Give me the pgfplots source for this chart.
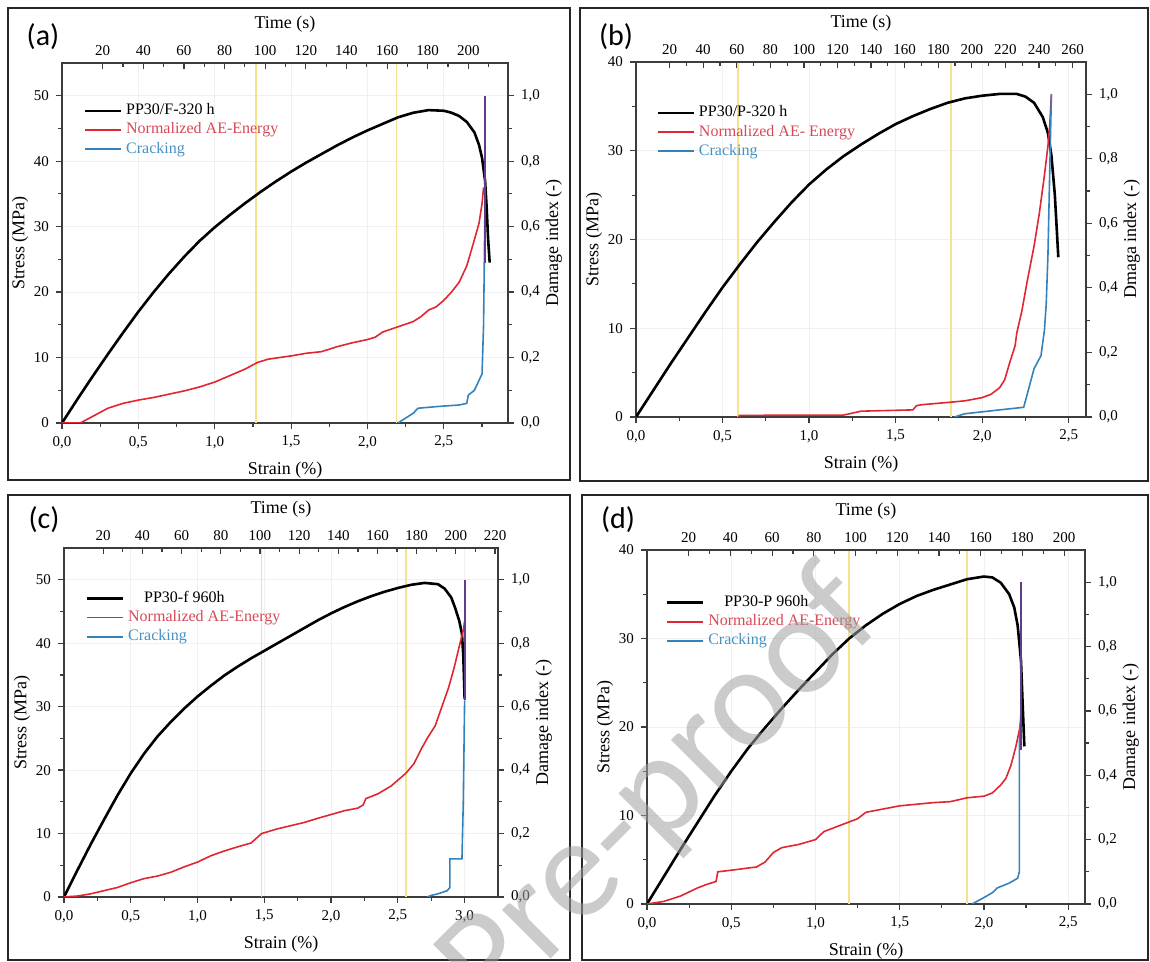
\documentclass[border=0pt]{standalone}
\usepackage{pgfplots}
\pgfplotsset{compat=1.18}
\usepackage{fontspec}
\setmainfont{Liberation Serif}
\newfontfamily\carlito{Carlito}
\definecolor{aered}{RGB}{226,38,48}
\definecolor{aetext}{RGB}{214,72,86}
\definecolor{crblue}{RGB}{52,130,188}
\definecolor{crtext}{RGB}{70,145,195}
\definecolor{ylw}{RGB}{246,226,140}
\definecolor{purp}{RGB}{95,60,140}
\definecolor{axgray}{RGB}{60,60,60}
\definecolor{wm}{RGB}{160,160,160}
\pgfplotsset{
 base/.style={scale only axis, anchor=south west,
   /pgf/number format/assume math mode=true,
   tick label style={font=\fontsize{7.5}{8}\selectfont},
   label style={font=\fontsize{9}{10}\selectfont},
   axis line style={axgray, line width=0.7pt},
   major tick length=3pt, minor tick length=1.8pt,
   every tick/.style={axgray, line width=0.6pt}},
 prim/.style={base, tick align=outside, xtick pos=left, ytick pos=left,
   grid=major, major grid style={gray!12, line width=0.4pt},
   xticklabel style={/pgf/number format/.cd, fixed, fixed zerofill, precision=1, use comma},
   xlabel={Strain (\%)}, ylabel={Stress (MPa)}, ylabel shift=-4pt,
   legend style={draw=none, fill=none, anchor=north west, font=\fontsize{8}{9}\selectfont, row sep=-1.5pt},
   legend cell align=left,
   legend image code/.code={\draw[##1] (0pt,0pt) -- (18pt,0pt);}},
 dam/.style={base, tick align=outside, axis y line*=right, axis x line=none,
   ymin=0, ymax=1.1, ytick={0,0.2,0.4,0.6,0.8,1}, minor ytick={0.1,0.3,0.5,0.7,0.9},
   ylabel shift=-4pt,
   yticklabel style={/pgf/number format/.cd, fixed, fixed zerofill, precision=1, use comma}},
 tim/.style={base, tick align=inside, axis x line*=top, axis y line=none, ymin=0, ymax=1,
   xlabel={Time (s)}},
 blk/.style={black, line width=1.3pt},
 rd/.style={aered, line width=0.8pt},
 bl/.style={crblue, line width=0.8pt},
 pu/.style={purp, line width=0.9pt},
 yl/.style={ylw, line width=0.8pt, forget plot},
}
\begin{document}
\begin{tikzpicture}
\path[use as bounding box] (0,0) rectangle (575pt,481pt);
% ---------------- (a)
\begin{axis}[prim, at={(31pt,269.5pt)}, width=223pt, height=180pt,
  xmin=0, xmax=2.92, ymin=0, ymax=55,
  xtick={0,0.5,1,1.5,2,2.5}, minor xtick={0.25,0.75,1.25,1.75,2.25,2.75},
  ytick={0,10,20,30,40,50}, minor ytick={5,15,25,35,45},
  legend style={at={(0.034,0.91)}}]
\addplot[yl] coordinates {(1.27,0) (1.27,55)};
\addplot[yl] coordinates {(2.19,0) (2.19,55)};
\addplot[blk] coordinates {(0,0)(0.1,3.6)(0.2,7.1)(0.3,10.5)(0.4,13.8)(0.5,17.0)(0.6,20.0)(0.7,22.8)(0.8,25.4)(0.9,27.8)(1.0,29.9)(1.1,31.8)(1.2,33.6)(1.3,35.3)(1.4,36.9)(1.5,38.4)(1.6,39.8)(1.7,41.1)(1.8,42.4)(1.9,43.6)(2.0,44.7)(2.1,45.7)(2.2,46.7)(2.3,47.4)(2.4,47.8)(2.5,47.7)(2.55,47.4)(2.6,46.9)(2.65,46.0)(2.7,44.4)(2.73,42.5)(2.75,40.5)(2.77,37)(2.78,33)(2.79,28)(2.8,24.5)};
\addlegendentry{PP30/F-320 h}
\addlegendimage{rd}\addlegendentry{\textcolor{aetext}{Normalized AE-Energy}}
\addlegendimage{bl}\addlegendentry{\textcolor{crtext}{Cracking}}
\end{axis}
\begin{axis}[dam, at={(31pt,269.5pt)}, width=223pt, height=180pt, xmin=0, xmax=2.92,
  ylabel={Damage index (-)}]
\addplot[rd] coordinates {(0,0)(0.12,0)(0.2,0.02)(0.3,0.045)(0.4,0.06)(0.5,0.07)(0.6,0.078)(0.7,0.088)(0.8,0.098)(0.9,0.11)(1.0,0.125)(1.1,0.145)(1.2,0.165)(1.28,0.185)(1.35,0.195)(1.5,0.205)(1.6,0.213)(1.7,0.218)(1.8,0.233)(1.9,0.245)(2.0,0.255)(2.05,0.262)(2.1,0.278)(2.2,0.294)(2.3,0.31)(2.35,0.325)(2.4,0.345)(2.45,0.355)(2.5,0.375)(2.55,0.4)(2.6,0.43)(2.65,0.48)(2.7,0.56)(2.73,0.61)(2.75,0.67)(2.76,0.72)};
\addplot[bl] coordinates {(2.2,0)(2.25,0.015)(2.3,0.03)(2.33,0.045)(2.45,0.05)(2.6,0.055)(2.65,0.06)(2.66,0.085)(2.7,0.1)(2.73,0.13)(2.75,0.15)(2.76,0.3)(2.765,0.5)(2.77,0.7)};
\addplot[pu] coordinates {(2.77,0.49)(2.77,1.0)};
\end{axis}
\begin{axis}[tim, at={(31pt,269.5pt)}, width=223pt, height=180pt, xmin=0, xmax=219.5,
  xtick={20,40,...,220}, minor xtick={30,50,...,210}]
\end{axis}
% ---------------- (b)
\begin{axis}[prim, at={(318pt,272.5pt)}, width=225pt, height=177.5pt,
  xmin=0, xmax=2.6, ymin=0, ymax=40,
  xtick={0,0.5,1,1.5,2,2.5}, minor xtick={0.25,0.75,1.25,1.75,2.25},
  ytick={0,10,20,30,40}, minor ytick={5,15,25,35},
  legend style={at={(0.031,0.90)}}]
\addplot[yl] coordinates {(0.59,0) (0.59,40)};
\addplot[yl] coordinates {(1.82,0) (1.82,40)};
\addplot[blk] coordinates {(0,0)(0.1,3)(0.2,6)(0.3,8.9)(0.4,11.8)(0.5,14.6)(0.6,17.2)(0.7,19.7)(0.8,22.0)(0.9,24.2)(1.0,26.2)(1.1,27.9)(1.2,29.4)(1.3,30.7)(1.4,31.9)(1.5,33.0)(1.6,33.9)(1.7,34.7)(1.8,35.4)(1.9,35.9)(2.0,36.2)(2.1,36.4)(2.2,36.4)(2.25,36.1)(2.3,35.4)(2.35,33.8)(2.38,32)(2.4,29.5)(2.42,25)(2.44,18)};
\addlegendentry{PP30/P-320 h}
\addlegendimage{rd}\addlegendentry{\textcolor{aetext}{Normalized AE- Energy}}
\addlegendimage{bl}\addlegendentry{\textcolor{crtext}{Cracking}}
\end{axis}
\begin{axis}[dam, at={(318pt,272.5pt)}, width=225pt, height=177.5pt, xmin=0, xmax=2.6,
  ylabel={Dmaga index (-)}]
\addplot[rd] coordinates {(0.59,0)(0.6,0.005)(1.2,0.006)(1.25,0.012)(1.3,0.018)(1.6,0.022)(1.62,0.035)(1.65,0.038)(1.8,0.045)(1.9,0.05)(2.0,0.06)(2.05,0.07)(2.1,0.09)(2.13,0.115)(2.16,0.17)(2.19,0.22)(2.2,0.26)(2.23,0.33)(2.26,0.42)(2.3,0.53)(2.33,0.63)(2.36,0.75)(2.38,0.84)(2.39,0.9)(2.4,1.0)};
\addplot[bl] coordinates {(1.84,0)(1.9,0.01)(2.0,0.016)(2.1,0.022)(2.24,0.03)(2.27,0.09)(2.3,0.15)(2.34,0.19)(2.36,0.27)(2.37,0.35)(2.38,0.5)(2.39,0.75)(2.4,1.0)};
\end{axis}
\begin{axis}[tim, at={(318pt,272.5pt)}, width=225pt, height=177.5pt, xmin=0, xmax=268,
  xtick={20,40,...,260}, minor xtick={30,50,...,250}]
\end{axis}
% ---------------- (c)
\begin{axis}[prim, at={(32pt,32.5pt)}, width=217pt, height=174.5pt,
  xmin=0, xmax=3.25, ymin=0, ymax=55,
  xtick={0,0.5,1,1.5,2,2.5,3}, minor xtick={0.25,0.75,1.25,1.75,2.25,2.75},
  ytick={0,10,20,30,40,50}, minor ytick={5,15,25,35,45},
  legend style={at={(0.035,0.90)}}]
\addplot[yl] coordinates {(1.48,0) (1.48,55)};
\addplot[yl] coordinates {(2.56,0) (2.56,55)};
\addplot[blk] coordinates {(0,0)(0.1,4.2)(0.2,8.3)(0.3,12.2)(0.4,16)(0.5,19.5)(0.6,22.6)(0.7,25.3)(0.8,27.6)(0.9,29.7)(1.0,31.6)(1.1,33.3)(1.2,34.9)(1.3,36.3)(1.4,37.6)(1.5,38.8)(1.6,40.0)(1.7,41.2)(1.8,42.4)(1.9,43.6)(2.0,44.7)(2.1,45.7)(2.2,46.6)(2.3,47.4)(2.4,48.1)(2.5,48.7)(2.6,49.2)(2.7,49.5)(2.8,49.3)(2.85,48.6)(2.9,47.2)(2.93,45.5)(2.96,43.5)(2.98,41.5)(2.99,38)(3.0,31.2)};
\addlegendentry{\hspace{8pt}PP30-f 960h}
\addlegendimage{rd}\addlegendentry{\textcolor{aetext}{Normalized AE-Energy}}
\addlegendimage{bl}\addlegendentry{\textcolor{crtext}{Cracking}}
\end{axis}
\begin{axis}[dam, at={(32pt,32.5pt)}, width=217pt, height=174.5pt, xmin=0, xmax=3.25,
  ylabel={Damage index (-)}]
\addplot[rd] coordinates {(0,0)(0.1,0.003)(0.2,0.01)(0.3,0.02)(0.4,0.03)(0.5,0.045)(0.6,0.058)(0.7,0.066)(0.8,0.078)(0.9,0.095)(1.0,0.11)(1.1,0.13)(1.2,0.145)(1.3,0.158)(1.4,0.17)(1.48,0.2)(1.6,0.215)(1.7,0.225)(1.8,0.235)(1.9,0.248)(2.0,0.26)(2.1,0.272)(2.2,0.28)(2.24,0.29)(2.26,0.31)(2.35,0.325)(2.45,0.35)(2.56,0.39)(2.62,0.42)(2.68,0.47)(2.72,0.5)(2.78,0.54)(2.83,0.6)(2.88,0.66)(2.92,0.72)(2.96,0.79)(2.99,0.84)(3.0,0.87)};
\addplot[bl] coordinates {(2.72,0)(2.75,0.005)(2.8,0.01)(2.87,0.02)(2.89,0.03)(2.89,0.12)(2.98,0.12)(2.99,0.3)(3.0,0.62)};
\addplot[pu] coordinates {(3.0,0.62)(3.0,1.0)};
\end{axis}
\begin{axis}[tim, at={(32pt,32.5pt)}, width=217pt, height=174.5pt, xmin=0, xmax=221.5,
  xtick={20,40,...,220}, minor xtick={30,50,...,210}]
\end{axis}
% ---------------- (d)
\begin{axis}[prim, at={(323.5pt,29pt)}, width=219pt, height=177pt,
  xmin=0, xmax=2.6, ymin=0, ymax=40,
  xtick={0,0.5,1,1.5,2,2.5}, minor xtick={0.25,0.75,1.25,1.75,2.25},
  ytick={0,10,20,30,40}, minor ytick={5,15,25,35},
  legend style={at={(0.028,0.895)}}]
\addplot[yl] coordinates {(1.2,0) (1.2,40)};
\addplot[yl] coordinates {(1.9,0) (1.9,40)};
\addplot[blk] coordinates {(0,0)(0.1,3.1)(0.2,6.2)(0.3,9.2)(0.4,12.2)(0.5,15)(0.6,17.6)(0.7,19.9)(0.8,22.1)(0.9,24.2)(1.0,26.2)(1.1,28.2)(1.2,30)(1.3,31.5)(1.4,32.8)(1.5,33.9)(1.6,34.8)(1.7,35.5)(1.8,36.1)(1.9,36.7)(2.0,37)(2.05,36.9)(2.1,36.3)(2.15,35)(2.18,33.5)(2.2,31.5)(2.22,27.5)(2.23,22.5)(2.24,17.8)};
\addlegendentry{\hspace{8pt}PP30-P 960h}
\addlegendimage{rd}\addlegendentry{\textcolor{aetext}{Normalized AE-Energy}}
\addlegendimage{bl}\addlegendentry{\textcolor{crtext}{Cracking}}
\end{axis}
\begin{axis}[dam, at={(323.5pt,29pt)}, width=219pt, height=177pt, xmin=0, xmax=2.6,
  ylabel={Damage index (-)}]
\addplot[rd] coordinates {(0,0)(0.1,0.008)(0.2,0.025)(0.3,0.05)(0.35,0.06)(0.41,0.07)(0.42,0.1)(0.5,0.105)(0.65,0.115)(0.7,0.13)(0.75,0.16)(0.8,0.175)(0.9,0.185)(1.0,0.2)(1.05,0.225)(1.1,0.235)(1.2,0.255)(1.25,0.265)(1.3,0.285)(1.4,0.295)(1.5,0.305)(1.6,0.31)(1.7,0.315)(1.8,0.318)(1.9,0.33)(2.0,0.335)(2.05,0.345)(2.1,0.37)(2.13,0.39)(2.16,0.43)(2.19,0.49)(2.21,0.54)(2.22,0.57)};
\addplot[bl] coordinates {(1.93,0)(2.0,0.02)(2.05,0.035)(2.08,0.05)(2.15,0.065)(2.2,0.08)(2.21,0.1)(2.21,0.5)(2.22,0.6)};
\addplot[pu] coordinates {(2.22,0.48)(2.22,1.0)};
\end{axis}
\begin{axis}[tim, at={(323.5pt,29pt)}, width=219pt, height=177pt, xmin=0, xmax=210,
  xtick={20,40,...,200}, minor xtick={30,50,...,190}]
\end{axis}
% frames and panel letters
\draw[line width=1.2pt, black!85] (4pt,241pt) rectangle (285pt,477pt);
\draw[line width=1.2pt, black!85] (290pt,240.5pt) rectangle (574pt,477pt);
\draw[line width=1.2pt, black!85] (4pt,1pt) rectangle (285pt,233.5pt);
\draw[line width=1.2pt, black!85] (291pt,1pt) rectangle (574pt,233.5pt);
\node[font=\carlito\fontsize{15}{16}\selectfont] at (21.5pt,462.5pt) {(a)};
\node[font=\carlito\fontsize{15}{16}\selectfont] at (308pt,462.5pt) {(b)};
\node[font=\carlito\fontsize{15}{16}\selectfont] at (22pt,221pt) {(c)};
\node[font=\carlito\fontsize{15}{16}\selectfont] at (309pt,221pt) {(d)};
\node[font=\carlito\fontsize{72}{74}\selectfont, text=wm, text opacity=0.55, rotate=45] at (331pt,84pt) {Pre-proof};
\end{tikzpicture}
\end{document}
